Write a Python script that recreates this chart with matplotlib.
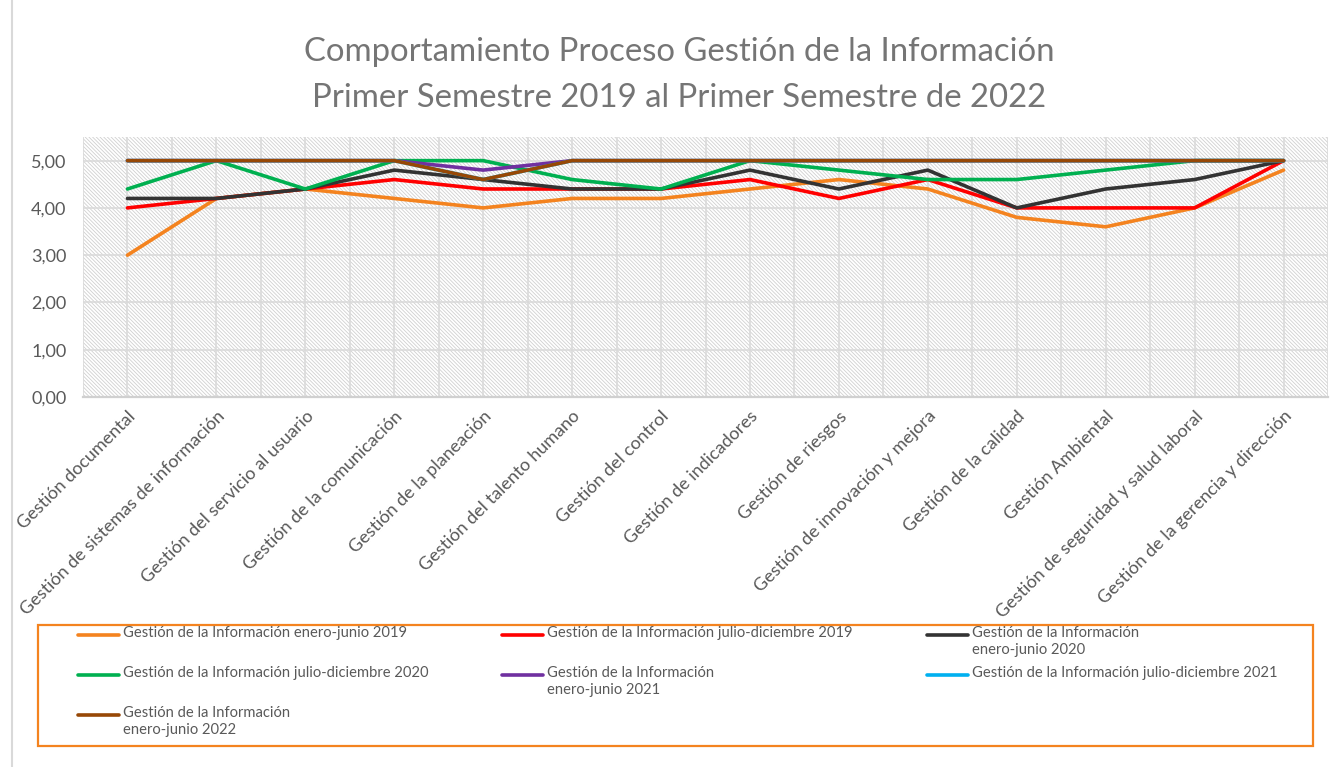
import numpy as np
import matplotlib.pyplot as plt
from matplotlib.lines import Line2D
from matplotlib.patches import Rectangle
from matplotlib.ticker import FuncFormatter

plt.rcParams['font.family'] = ['Lato', 'DejaVu Sans']
plt.rcParams['hatch.linewidth'] = 0.6
plt.rcParams['hatch.color'] = '#D0D0D0'

categories = [
    'Gestión documental',
    'Gestión de sistemas de información',
    'Gestión del servicio al usuario',
    'Gestión de la comunicación',
    'Gestión de la planeación',
    'Gestión del talento humano',
    'Gestión del control',
    'Gestión de indicadores',
    'Gestión de riesgos',
    'Gestión de innovación y mejora',
    'Gestión de la calidad',
    'Gestión Ambiental',
    'Gestión de seguridad y salud laboral',
    'Gestión de la gerencia y dirección',
]

ene_jun_2019 = [3.0, 4.2, 4.4, 4.2, 4.0, 4.2, 4.2, 4.4, 4.6, 4.4, 3.8, 3.6, 4.0, 4.8]
jul_dic_2019 = [4.0, 4.2, 4.4, 4.6, 4.4, 4.4, 4.4, 4.6, 4.2, 4.6, 4.0, 4.0, 4.0, 5.0]
ene_jun_2020 = [4.2, 4.2, 4.4, 4.8, 4.6, 4.4, 4.4, 4.8, 4.4, 4.8, 4.0, 4.4, 4.6, 5.0]
jul_dic_2020 = [4.4, 5.0, 4.4, 5.0, 5.0, 4.6, 4.4, 5.0, 4.8, 4.6, 4.6, 4.8, 5.0, 5.0]
ene_jun_2021 = [5.0, 5.0, 5.0, 5.0, 4.8, 5.0, 5.0, 5.0, 5.0, 5.0, 5.0, 5.0, 5.0, 5.0]
jul_dic_2021 = [5.0, 5.0, 5.0, 5.0, 4.6, 5.0, 5.0, 5.0, 5.0, 5.0, 5.0, 5.0, 5.0, 5.0]
ene_jun_2022 = [5.0, 5.0, 5.0, 5.0, 4.6, 5.0, 5.0, 5.0, 5.0, 5.0, 5.0, 5.0, 5.0, 5.0]

series = [
    ('Gestión de la Información enero-junio 2019', ene_jun_2019, '#F4831F'),
    ('Gestión de la Información julio-diciembre 2019', jul_dic_2019, '#FF0000'),
    ('Gestión de la Información\nenero-junio 2020', ene_jun_2020, '#333333'),
    ('Gestión de la Información julio-diciembre 2020', jul_dic_2020, '#00B050'),
    ('Gestión de la Información\nenero-junio 2021', ene_jun_2021, '#7030A0'),
    ('Gestión de la Información julio-diciembre 2021', jul_dic_2021, '#00B0F0'),
    ('Gestión de la Información\nenero-junio 2022', ene_jun_2022, '#974806'),
]

W, H = 1333, 767
fig = plt.figure(figsize=(W / 100, H / 100), dpi=100)
ax = fig.add_axes([83 / W, 1 - 397 / H, (1328 - 83) / W, (397 - 137) / H])

# hatched plot area
ax.add_patch(Rectangle((0, 0), 1, 1, transform=ax.transAxes, facecolor='white',
                       edgecolor='#D0D0D0', hatch='\\' * 9, linewidth=0, zorder=0))

x = np.arange(len(categories))
for label, vals, color in series:
    ax.plot(x, vals, color=color, linewidth=2.6, solid_capstyle='round', zorder=3)

ax.set_xlim(-0.5, len(categories) - 0.5)
ax.set_ylim(0, 5.5)
ax.set_yticks(np.arange(0, 6, 1))
ax.yaxis.set_major_formatter(FuncFormatter(lambda v, p: f'{v:.2f}'.replace('.', ',')))
ax.set_xticks(x)
ax.set_xticks(np.arange(-0.5, len(categories), 1), minor=True)
ax.set_xticklabels(categories, rotation=45, ha='right', va='top', rotation_mode='anchor')

ax.grid(True, which='both', axis='x', color='#DADADA', linewidth=1.2, zorder=1)
ax.grid(True, which='major', axis='y', color='#DADADA', linewidth=1.2, zorder=1)
ax.set_axisbelow(True)
ax.tick_params(which='both', length=0)
ax.tick_params(axis='y', labelsize=13, labelcolor='#595959', pad=12)
ax.tick_params(axis='x', labelsize=13, labelcolor='#595959', pad=8)
for s in ['top', 'right', 'left']:
    ax.spines[s].set_visible(False)
ax.spines['bottom'].set_color('#D0D0D0')
ax.spines['bottom'].set_linewidth(1.6)

fig.text(679 / W, 1 - 52 / H, 'Comportamiento Proceso Gestión de la Información',
         ha='center', va='center', fontsize=23.7, color='#757575')
fig.text(679 / W, 1 - 98 / H, 'Primer Semestre 2019 al Primer Semestre de 2022',
         ha='center', va='center', fontsize=23.7, color='#757575')

# left chart border
fig.add_artist(Line2D([12 / W, 12 / W], [0, 1], color='#D9D9D9', linewidth=1.5))

# legend box, rows filled left to right as in the original
fig.add_artist(Rectangle((38 / W, 1 - 746 / H), (1313 - 38) / W, (746 - 625) / H,
                         transform=fig.transFigure, fill=False,
                         edgecolor='#F4831F', linewidth=1.6))
col_x = [78, 502, 927]
row_y = [635, 675, 715]
for i, (label, vals, color) in enumerate(series):
    cx = col_x[i % 3]
    cy = row_y[i // 3]
    fig.add_artist(Line2D([cx / W, (cx + 41) / W], [1 - cy / H, 1 - cy / H],
                          color=color, linewidth=2.6, solid_capstyle='round'))
    fig.text((cx + 45) / W, 1 - (cy - 9) / H, label, ha='left', va='top',
             fontsize=10.6, color='#595959', linespacing=1.3)

fig.savefig('out.png', dpi=100)
